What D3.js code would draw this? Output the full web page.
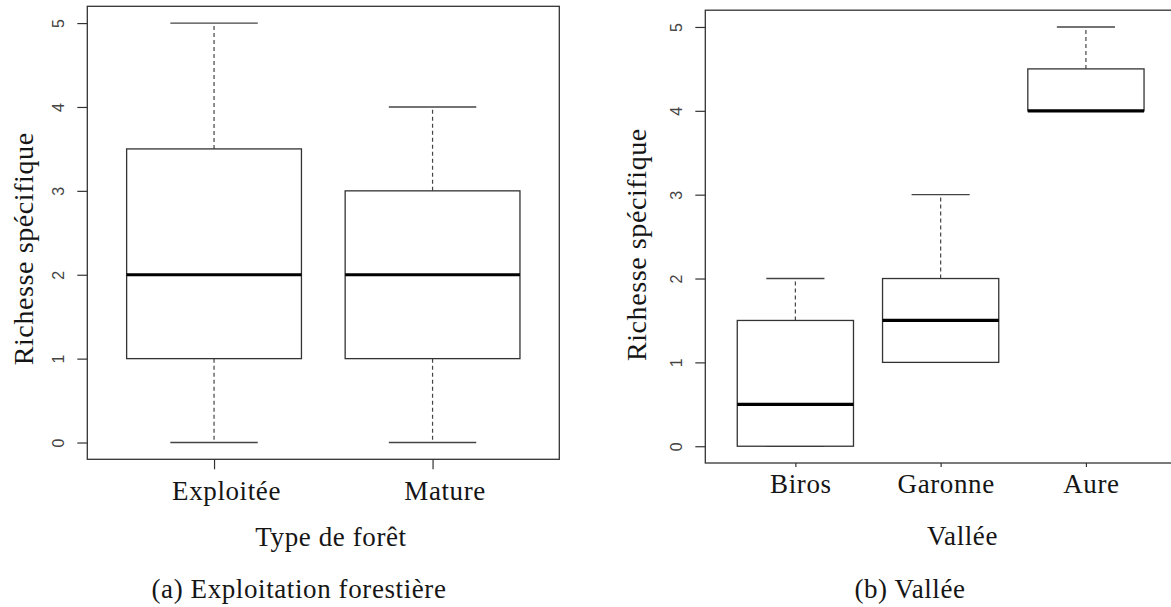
<!DOCTYPE html>
<html>
<head>
<meta charset="utf-8">
<script src="https://cdn.jsdelivr.net/npm/d3@7"></script>
<style>
  html, body { margin: 0; padding: 0; background: #fff; }
  svg { display: block; }
  .serif { font-family: "Liberation Serif", "DejaVu Serif", serif; fill: #151515; letter-spacing: 0.6px; }
  .num { font-family: "Liberation Sans", Arial, sans-serif; fill: #444; }
</style>
</head>
<body>
<svg id="chart" width="1171" height="607"></svg>
<script>
// ---- Data ----
const forestTypes = ["Exploitée", "Mature"];
const forestMin    = [0, 0];
const forestQ1     = [1, 1];
const forestMedian = [2, 2];
const forestQ3     = [3.5, 3];
const forestMax    = [5, 4];

const valleys      = ["Biros", "Garonne", "Aure"];
const valleyMin    = [0, 1, 4];
const valleyQ1     = [0, 1, 4];
const valleyMedian = [0.5, 1.5, 4];
const valleyQ3     = [1.5, 2, 4.5];
const valleyMax    = [2, 3, 5];

const yTicks = [0, 1, 2, 3, 4, 5];
const yLabel = "Richesse spécifique";

const svg = d3.select("#chart");

function panel(opts) {
  const { cats, mins, q1s, meds, q3s, maxs, left, top, right, bottom,
          xTickLen, xLabelGap, xLabelDx, yLabelX, yLabelDy, xTitle, xTitleX, xTitleY,
          caption, captionX, captionY } = opts;
  const n = cats.length;
  const x = d3.scaleLinear().domain([0.5 - 0.04 * n, n + 0.5 + 0.04 * n]).range([left, right]);
  const y = d3.scaleLinear().domain([-0.2, 5.2]).range([bottom, top]);
  const g = svg.append("g");

  const data = cats.map((c, i) => ({ c, pos: i + 1, min: mins[i], q1: q1s[i], med: meds[i], q3: q3s[i], max: maxs[i] }));

  // whiskers
  const wk = g.append("g");
  data.forEach(d => {
    [[d.q3, d.max], [d.q1, d.min]].forEach(([a, b]) => {
      if (a === b) return;
      wk.append("line")
        .attr("x1", x(d.pos)).attr("x2", x(d.pos))
        .attr("y1", y(a)).attr("y2", y(b))
        .attr("stroke", "#444").attr("stroke-width", 1.2)
        .attr("stroke-dasharray", "4,3");
    });
    [d.max, d.min].forEach(v => {
      wk.append("line")
        .attr("x1", x(d.pos - 0.2)).attr("x2", x(d.pos + 0.2))
        .attr("y1", y(v)).attr("y2", y(v))
        .attr("stroke", "#444").attr("stroke-width", 1.4);
    });
  });

  // boxes
  g.append("g").selectAll("rect").data(data).join("rect")
    .attr("x", d => x(d.pos - 0.4))
    .attr("width", d => x(d.pos + 0.4) - x(d.pos - 0.4))
    .attr("y", d => y(d.q3))
    .attr("height", d => y(d.q1) - y(d.q3))
    .attr("fill", "#fff").attr("stroke", "#333").attr("stroke-width", 1.3);

  // medians
  g.append("g").selectAll("line").data(data).join("line")
    .attr("x1", d => x(d.pos - 0.4)).attr("x2", d => x(d.pos + 0.4))
    .attr("y1", d => y(d.med)).attr("y2", d => y(d.med))
    .attr("stroke", "#000").attr("stroke-width", 3.2);

  // frame
  g.append("rect")
    .attr("x", left).attr("y", top)
    .attr("width", right - left).attr("height", bottom - top)
    .attr("fill", "none").attr("stroke", "#333").attr("stroke-width", 1.3);

  // y axis
  const ya = g.append("g").attr("transform", `translate(${left},0)`)
    .call(d3.axisLeft(y).tickValues(yTicks).tickSize(10).tickFormat(d3.format("d")));
  ya.select(".domain").remove();
  ya.selectAll(".tick line").attr("stroke", "#333").attr("stroke-width", 1.2);
  ya.selectAll(".tick text")
    .attr("class", "num")
    .attr("x", 0).attr("y", 0).attr("dy", "0.36em")
    .attr("text-anchor", "middle")
    .attr("transform", "translate(-29,0) rotate(-90)")
    .style("font-size", "16px");

  // x axis
  const xa = g.append("g").attr("transform", `translate(0,${bottom})`)
    .call(d3.axisBottom(x).tickValues(data.map(d => d.pos)).tickSize(xTickLen)
      .tickFormat(p => cats[p - 1]));
  xa.select(".domain").remove();
  xa.selectAll(".tick line").attr("stroke", "#333").attr("stroke-width", 1.2);
  xa.selectAll(".tick text")
    .attr("class", "serif")
    .attr("y", xLabelGap).attr("dy", 0).attr("dx", xLabelDx)
    .style("font-size", "27px");

  // y title
  g.append("text").attr("class", "serif")
    .attr("transform", `translate(${yLabelX},${(top + bottom) / 2 + yLabelDy}) rotate(-90)`)
    .attr("text-anchor", "middle")
    .style("font-size", "28px")
    .text(yLabel);

  // x title
  g.append("text").attr("class", "serif")
    .attr("x", xTitleX).attr("y", xTitleY)
    .attr("text-anchor", "middle")
    .style("font-size", "27px")
    .text(xTitle);

  // caption
  g.append("text").attr("class", "serif")
    .attr("x", captionX).attr("y", captionY)
    .attr("text-anchor", "middle")
    .style("font-size", "27px")
    .text(caption);
}

panel({
  cats: forestTypes, mins: forestMin, q1s: forestQ1, meds: forestMedian, q3s: forestQ3, maxs: forestMax,
  left: 87.3, top: 6.3, right: 559.3, bottom: 459.3,
  xTickLen: 10, xLabelGap: 41, xLabelDx: 12,
  yLabelX: 33, yLabelDy: 16,
  xTitle: "Type de forêt", xTitleX: 331, xTitleY: 546,
  caption: "(a) Exploitation forestière", captionX: 299, captionY: 598
});

panel({
  cats: valleys, mins: valleyMin, q1s: valleyQ1, meds: valleyMedian, q3s: valleyQ3, maxs: valleyMax,
  left: 705.3, top: 10.2, right: 1176, bottom: 463,
  xTickLen: 4, xLabelGap: 30, xLabelDx: 5,
  yLabelX: 646, yLabelDy: 8,
  xTitle: "Vallée", xTitleX: 962.5, xTitleY: 545,
  caption: "(b) Vallée", captionX: 910, captionY: 598
});
</script>
</body>
</html>
